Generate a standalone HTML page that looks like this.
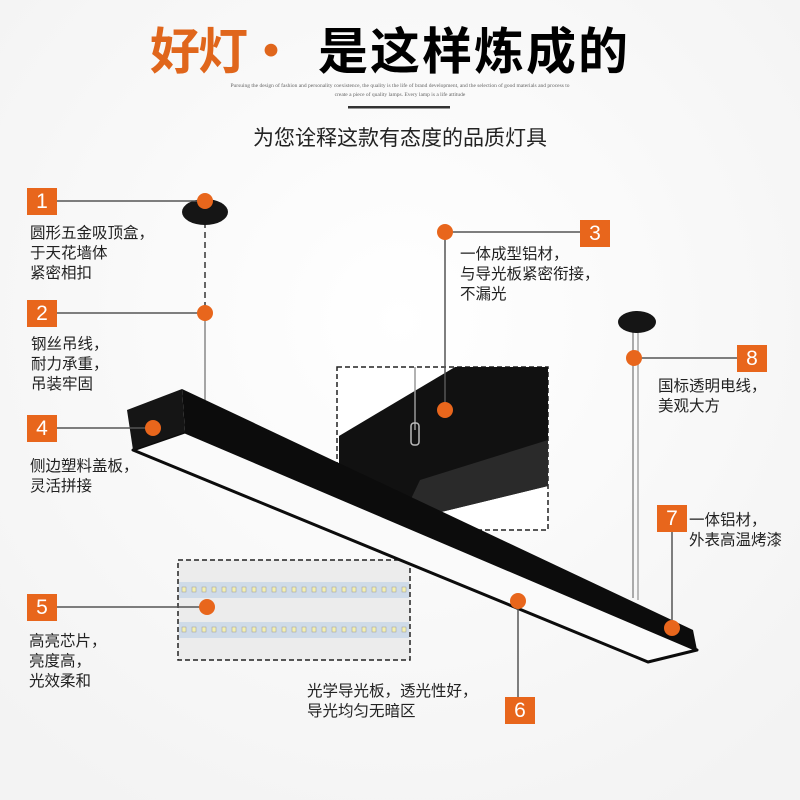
<!DOCTYPE html>
<html><head><meta charset="utf-8"><style>
html,body{margin:0;padding:0;background:#fff}
body{width:800px;height:800px;overflow:hidden;position:relative;font-family:"Liberation Sans","Noto Sans CJK SC",sans-serif}
.t{position:absolute;font-size:15.5px;line-height:20px;color:#222;font-family:"Noto Sans CJK SC",sans-serif}
.n{position:absolute;width:30px;height:27px;background:#e8661c;color:#fff;font-size:21px;line-height:27px;text-align:center;font-family:"Liberation Sans",sans-serif}
</style></head><body>
<svg width="800" height="800" style="position:absolute;left:0;top:0">
<defs><radialGradient id="bg" cx="50%" cy="40%" r="70%"><stop offset="0" stop-color="#fff"/><stop offset="1" stop-color="#f3f3f3"/></radialGradient></defs>
<rect width="800" height="800" fill="url(#bg)"/>
<rect x="348" y="106" width="102" height="2.5" fill="#333"/>
<!-- inset box -->
<rect x="337" y="367" width="211" height="163" fill="#fff" stroke="#222" stroke-width="1.5" stroke-dasharray="5,3"/>
<polygon points="339,436 455,367 548,367 548,486 400,522 339,470" fill="#111"/>
<polygon points="400,522 548,486 548,440 420,480" fill="#2a2a2a"/>
<line x1="415" y1="367" x2="415" y2="430" stroke="#999" stroke-width="1.5"/>
<rect x="411" y="423" width="8" height="22" rx="3" fill="none" stroke="#bbb" stroke-width="1.5"/>
<!-- LED box -->
<rect x="178" y="560" width="232" height="100" fill="#ececec" stroke="#222" stroke-width="1.5" stroke-dasharray="5,3"/>
<rect x="179" y="582" width="230" height="16" fill="#cfdbe8"/>
<rect x="179" y="622" width="230" height="16" fill="#cfdbe8"/>
<g fill="#f4f0b0" stroke="#999" stroke-width="0.5">
<g id="r"><rect x="182" y="587" width="4" height="5"/><rect x="192" y="587" width="4" height="5"/><rect x="202" y="587" width="4" height="5"/><rect x="212" y="587" width="4" height="5"/><rect x="222" y="587" width="4" height="5"/><rect x="232" y="587" width="4" height="5"/><rect x="242" y="587" width="4" height="5"/><rect x="252" y="587" width="4" height="5"/><rect x="262" y="587" width="4" height="5"/><rect x="272" y="587" width="4" height="5"/><rect x="282" y="587" width="4" height="5"/><rect x="292" y="587" width="4" height="5"/><rect x="302" y="587" width="4" height="5"/><rect x="312" y="587" width="4" height="5"/><rect x="322" y="587" width="4" height="5"/><rect x="332" y="587" width="4" height="5"/><rect x="342" y="587" width="4" height="5"/><rect x="352" y="587" width="4" height="5"/><rect x="362" y="587" width="4" height="5"/><rect x="372" y="587" width="4" height="5"/><rect x="382" y="587" width="4" height="5"/><rect x="392" y="587" width="4" height="5"/><rect x="402" y="587" width="4" height="5"/></g>
<use href="#r" y="40"/></g>
<!-- wires -->
<line x1="205" y1="222" x2="205" y2="312" stroke="#666" stroke-width="2" stroke-dasharray="6,4"/>
<line x1="205" y1="312" x2="205" y2="400" stroke="#888" stroke-width="1.5"/>
<line x1="633" y1="330" x2="633" y2="598" stroke="#aaa" stroke-width="2"/>
<line x1="638" y1="330" x2="638" y2="600" stroke="#bbb" stroke-width="2"/>
<ellipse cx="205" cy="212" rx="23" ry="13" fill="#151515"/>
<ellipse cx="637" cy="322" rx="19" ry="11" fill="#151515"/>
<!-- bar -->
<polygon points="133,450 185,432 697,650 648,662" fill="#fafafa" stroke="#0c0c0c" stroke-width="3" stroke-linejoin="round"/>
<polygon points="182,389 693,630 697,650 185,432" fill="#0c0c0c"/>
<polygon points="127,410 182,389 185,432 133,450" fill="#151515"/>
<!-- leader lines -->
<g stroke="#555" stroke-width="1.5">
<line x1="57" y1="201" x2="205" y2="201"/><line x1="57" y1="313" x2="205" y2="313"/>
<line x1="57" y1="428" x2="153" y2="428"/><line x1="57" y1="607" x2="207" y2="607"/>
<line x1="445" y1="232" x2="580" y2="232"/><line x1="445" y1="232" x2="445" y2="410"/>
<line x1="634" y1="358" x2="737" y2="358"/><line x1="672" y1="530" x2="672" y2="628"/>
<line x1="518" y1="601" x2="518" y2="697"/>
</g>
<g fill="#e8661c">
<circle cx="205" cy="201" r="8"/><circle cx="205" cy="313" r="8"/><circle cx="153" cy="428" r="8"/>
<circle cx="207" cy="607" r="8"/><circle cx="445" cy="232" r="8"/><circle cx="445" cy="410" r="8"/>
<circle cx="634" cy="358" r="8"/><circle cx="672" cy="628" r="8"/><circle cx="518" cy="601" r="8"/>
</g>
</svg>
<div style="position:absolute;left:150px;top:18px;font-size:50px;font-weight:bold;color:#e0661c;font-family:'Noto Sans CJK SC',sans-serif;line-height:60px;letter-spacing:-2px">好灯•</div>
<div style="position:absolute;left:318px;top:18px;font-size:50px;font-weight:bold;color:#000;font-family:'Noto Sans CJK SC',sans-serif;line-height:60px;letter-spacing:2px">是这样炼成的</div>
<div style="position:absolute;left:180px;top:82px;width:440px;text-align:center;font-size:5.5px;line-height:9px;color:#666;font-family:'Liberation Serif',serif">Pursuing the design of fashion and personality coexistence, the quality is the life of brand development, and the selection of good materials and process to<br>create a piece of quality lamps. Every lamp is a life attitude</div>
<div style="position:absolute;left:0;top:122px;width:800px;text-align:center;font-size:21px;color:#222;font-family:'Noto Sans CJK SC',sans-serif">为您诠释这款有态度的品质灯具</div>
<div class="n" style="left:27px;top:188px">1</div>
<div class="t" style="left:30px;top:222px">圆形五金吸顶盒，<br>于天花墙体<br>紧密相扣</div>
<div class="n" style="left:27px;top:300px">2</div>
<div class="t" style="left:31px;top:333px">钢丝吊线，<br>耐力承重，<br>吊装牢固</div>
<div class="n" style="left:27px;top:415px">4</div>
<div class="t" style="left:30px;top:455px">侧边塑料盖板，<br>灵活拼接</div>
<div class="n" style="left:27px;top:594px">5</div>
<div class="t" style="left:29px;top:630px">高亮芯片，<br>亮度高，<br>光效柔和</div>
<div class="n" style="left:580px;top:220px">3</div>
<div class="t" style="left:460px;top:243px">一体成型铝材，<br>与导光板紧密衔接，<br>不漏光</div>
<div class="n" style="left:737px;top:345px">8</div>
<div class="t" style="left:658px;top:375px">国标透明电线，<br>美观大方</div>
<div class="n" style="left:657px;top:505px">7</div>
<div class="t" style="left:689px;top:509px;white-space:nowrap">一体铝材，<br>外表高温烤漆</div>
<div class="n" style="left:505px;top:697px">6</div>
<div class="t" style="left:307px;top:680px">光学导光板，透光性好，<br>导光均匀无暗区</div>
</body></html>
